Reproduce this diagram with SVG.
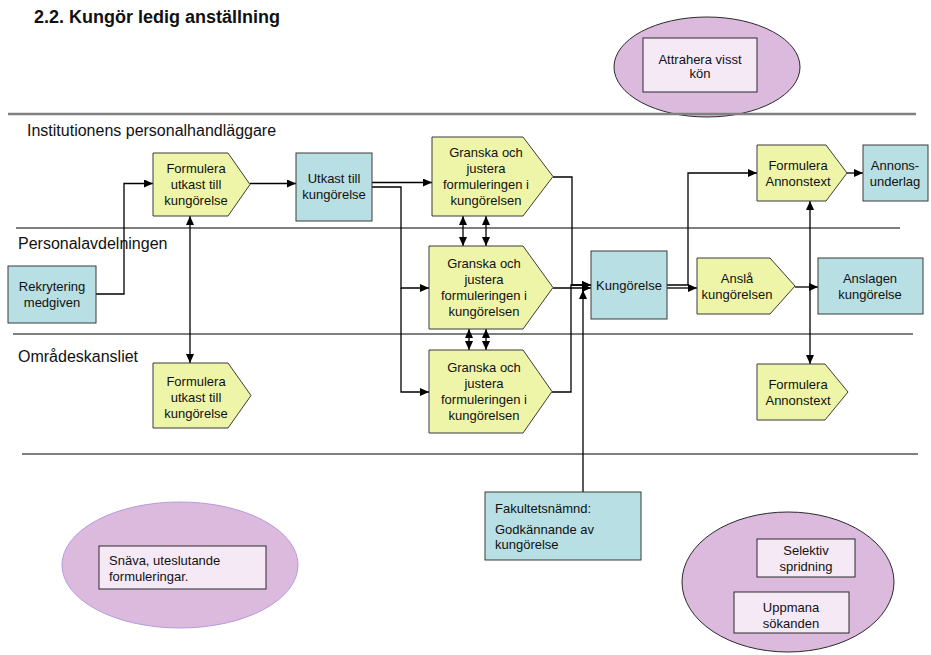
<svg xmlns="http://www.w3.org/2000/svg" width="931" height="655" viewBox="0 0 931 655">
  <style>
    text { font-family: "Liberation Sans", Arial, sans-serif; fill: #111; }
    .t { font-size: 13px; text-anchor: middle; }
    .tl { font-size: 13px; }
    .lane { font-size: 16px; }
    .title { font-size: 18px; font-weight: bold; }
    .act { fill: #eef5a9; stroke: #3a3a3a; stroke-width: 1; }
    .doc { fill: #b8dfe3; stroke: #3a3a3a; stroke-width: 1; }
    .oval { fill: #dcbade; stroke: #2a2a2a; stroke-width: 1; }
    .oval2 { fill: #dcbade; stroke: #b49ae0; stroke-width: 1; }
    .note { fill: #f5e9f6; stroke: #2a2a2a; stroke-width: 1; }
    .sep { stroke: #000; stroke-width: 1.2; fill: none; }
    .sepg { stroke: #808080; stroke-width: 2.5; fill: none; }
    .c { stroke: #000; stroke-width: 1.3; fill: none; }
    .a { marker-end: url(#arr); }
    .b { marker-start: url(#arr); marker-end: url(#arr); }
  </style>
  <defs>
    <marker id="arr" markerUnits="userSpaceOnUse" markerWidth="9" markerHeight="8" refX="9" refY="4" orient="auto-start-reverse">
      <path d="M0,0 L9,4 L0,8 z" fill="#000"/>
    </marker>
  </defs>

  <rect width="931" height="655" fill="#fff"/>

  <text class="title" x="34" y="23">2.2. Kungör ledig anställning</text>

  <!-- ovals with notes -->
  <g id="oval-attrahera">
    <ellipse class="oval" cx="707" cy="67" rx="93" ry="50"/>
    <rect class="note" x="643" y="38" width="114" height="54"/>
    <text class="t" x="700" y="64">Attrahera visst</text>
    <text class="t" x="700" y="78">kön</text>
  </g>
  <g id="oval-snava">
    <ellipse class="oval2" cx="180" cy="565" rx="118" ry="63"/>
    <rect class="note" x="99" y="546" width="167" height="43"/>
    <text class="tl" x="109" y="565">Snäva, uteslutande</text>
    <text class="tl" x="109" y="581">formuleringar.</text>
  </g>
  <g id="oval-spridning">
    <ellipse class="oval" cx="788" cy="582" rx="106" ry="70"/>
    <rect class="note" x="757" y="539" width="98" height="38"/>
    <text class="t" x="806" y="555">Selektiv</text>
    <text class="t" x="806" y="571">spridning</text>
    <rect class="note" x="734" y="592" width="115" height="41"/>
    <text class="t" x="791" y="612">Uppmana</text>
    <text class="t" x="791" y="628">sökanden</text>
  </g>

  <!-- swimlane separators and labels -->
  <g id="lanes">
    <path class="sepg" d="M8,114 H916"/>
    <path class="sep" d="M16,228 H900"/>
    <path class="sep" d="M13,334 H913"/>
    <path class="sep" d="M22,454 H918"/>
    <text class="lane" x="27" y="136">Institutionens personalhandläggare</text>
    <text class="lane" x="18" y="249">Personalavdelningen</text>
    <text class="lane" x="18" y="362">Områdeskansliet</text>
  </g>

  <!-- connectors -->
  <g id="connectors">
    <path class="c a" d="M96,294 H124 V183.5 H153"/>
    <path class="c a" d="M250,183.5 H296"/>
    <path class="c b" d="M190,216 V363"/>
    <path class="c a" d="M372,182.5 H432"/>
    <path class="c a" d="M372,187 H401 V288 H429"/>
    <path class="c a" d="M401,288 V392 H429"/>
    <path class="c b" d="M463,216 V246"/>
    <path class="c b" d="M486,216 V246"/>
    <path class="c b" d="M469,329 V350"/>
    <path class="c b" d="M486,329 V350"/>
    <path class="c a" d="M553,177 H572 V285 H591"/>
    <path class="c a" d="M553,288 H591"/>
    <path class="c a" d="M552,392 H571 V285 H591"/>
    <path class="c a" d="M583,492 V290"/>
    <path class="c a" d="M667,285 H688 V173 H757"/>
    <path class="c a" d="M667,288 H697"/>
    <path class="c a" d="M847,173 H863"/>
    <path class="c a" d="M795,287 H818"/>
    <path class="c b" d="M810,201 V364"/>
  </g>

  <!-- Institutionens personalhandläggare -->
  <g id="formulera-utkast-inst">
    <path class="act" d="M153,153 H228 L250,184.5 L228,216 H153 Z"/>
    <text class="t" x="196" y="173">Formulera</text>
    <text class="t" x="196" y="189">utkast till</text>
    <text class="t" x="196" y="205">kungörelse</text>
  </g>
  <g id="utkast">
    <rect class="doc" x="296" y="153" width="76" height="68"/>
    <text class="t" x="334" y="183">Utkast till</text>
    <text class="t" x="334" y="199">kungörelse</text>
  </g>
  <g id="granska-inst">
    <path class="act" d="M432,137 H523 L553,176.5 L523,216 H432 Z"/>
    <text class="t" x="486" y="157">Granska och</text>
    <text class="t" x="486" y="173">justera</text>
    <text class="t" x="486" y="189">formuleringen i</text>
    <text class="t" x="486" y="205">kungörelsen</text>
  </g>
  <g id="formulera-annons-inst">
    <path class="act" d="M757,145 H826 L847,173 L826,201 H757 Z"/>
    <text class="t" x="798" y="170">Formulera</text>
    <text class="t" x="798" y="186">Annonstext</text>
  </g>
  <g id="annonsunderlag">
    <rect class="doc" x="863" y="145" width="65" height="56"/>
    <text class="t" x="895" y="170">Annons-</text>
    <text class="t" x="895" y="186">underlag</text>
  </g>

  <!-- Personalavdelningen -->
  <g id="rekrytering">
    <rect class="doc" x="8" y="266" width="88" height="57"/>
    <text class="t" x="52" y="291">Rekrytering</text>
    <text class="t" x="52" y="307">medgiven</text>
  </g>
  <g id="granska-pers">
    <path class="act" d="M429,246 H523 L553,287.5 L523,329 H429 Z"/>
    <text class="t" x="484" y="268">Granska och</text>
    <text class="t" x="484" y="284">justera</text>
    <text class="t" x="484" y="300">formuleringen i</text>
    <text class="t" x="484" y="316">kungörelsen</text>
  </g>
  <g id="kungorelse">
    <rect class="doc" x="591" y="251" width="76" height="68"/>
    <text class="t" x="629" y="290">Kungörelse</text>
  </g>
  <g id="ansla">
    <path class="act" d="M697,258 H770 L795,286 L770,314 H697 Z"/>
    <text class="t" x="737" y="283">Anslå</text>
    <text class="t" x="737" y="299">kungörelsen</text>
  </g>
  <g id="anslagen">
    <rect class="doc" x="818" y="258" width="105" height="56"/>
    <text class="t" x="870" y="283">Anslagen</text>
    <text class="t" x="870" y="299">kungörelse</text>
  </g>

  <!-- Områdeskansliet -->
  <g id="formulera-utkast-omr">
    <path class="act" d="M153,363 H228 L251,395.5 L228,428 H153 Z"/>
    <text class="t" x="196" y="386">Formulera</text>
    <text class="t" x="196" y="402">utkast till</text>
    <text class="t" x="196" y="418">kungörelse</text>
  </g>
  <g id="granska-omr">
    <path class="act" d="M429,350 H523 L552,391.5 L523,433 H429 Z"/>
    <text class="t" x="484" y="372">Granska och</text>
    <text class="t" x="484" y="388">justera</text>
    <text class="t" x="484" y="404">formuleringen i</text>
    <text class="t" x="484" y="420">kungörelsen</text>
  </g>
  <g id="formulera-annons-omr">
    <path class="act" d="M757,364 H825 L848,392 L825,420 H757 Z"/>
    <text class="t" x="798" y="389">Formulera</text>
    <text class="t" x="798" y="405">Annonstext</text>
  </g>

  <!-- Fakultetsnämnd -->
  <g id="fakultetsnamnd">
    <rect class="doc" x="485" y="492" width="156" height="68"/>
    <text class="tl" x="495" y="513">Fakultetsnämnd:</text>
    <text class="tl" x="495" y="534">Godkännande av</text>
    <text class="tl" x="495" y="549">kungörelse</text>
  </g>
</svg>
